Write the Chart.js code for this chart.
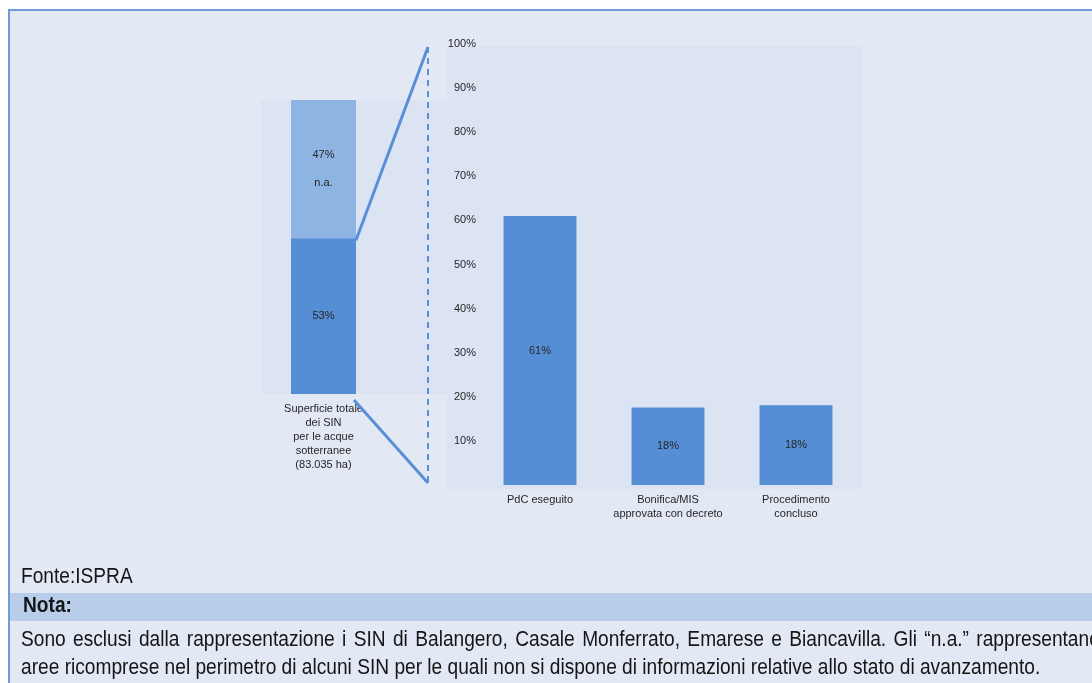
<!DOCTYPE html>
<html>
<head>
<meta charset="utf-8">
<script src="https://cdn.jsdelivr.net/npm/chart.js@4.4.1/dist/chart.umd.min.js"></script>
<style>
  html, body { margin: 0; padding: 0; background: #fff; }
  body { width: 1092px; height: 683px; overflow: hidden; position: relative;
         font-family: "Liberation Sans", Arial, sans-serif; }
  #frame { position: absolute; left: 8px; top: 9px; width: 1100px; height: 700px;
           background: #e2e9f5; border-left: 2px solid #6f9bd8; border-top: 2px solid #6f9bd8; }
  .plotbg { position: absolute; background: #dce4f3; }
  canvas { position: absolute; }
  .foot { position: absolute; left: 21px; white-space: nowrap; color: #151515;
          font-family: "Liberation Sans", Arial, sans-serif;
          font-size: 22px; line-height: 22px;
          transform: scaleX(0.87); transform-origin: 0 0; }
  .foot.just { white-space: normal; width: 1240px; text-align: justify; text-align-last: justify; }
  #nota { position: absolute; left: 10px; top: 593px; width: 1090px; height: 28px; background: #b8cde9; }
</style>
</head>
<body>
<div id="frame"></div>
<div class="plotbg" style="left:261px; top:100px; width:186px; height:294px;"></div>
<div class="plotbg" style="left:447px; top:46px; width:414px; height:443px;"></div>

<canvas id="shareChart" width="145" height="400" style="left:255px; top:90px;"></canvas>
<canvas id="statusChart" width="450" height="510" style="left:430px; top:30px;"></canvas>
<canvas id="connectors" width="1092" height="683" style="left:0; top:0; pointer-events:none;"></canvas>

<div class="foot" style="top:565px;">Fonte:ISPRA</div>
<div id="nota"></div>
<div class="foot" style="top:594px; left:23px; font-weight:bold;">Nota:</div>
<div class="foot just" style="top:628px;">Sono esclusi dalla rappresentazione i SIN di Balangero, Casale Monferrato, Emarese e Biancavilla. Gli “n.a.” rappresentano</div>
<div class="foot" style="top:656px;">aree ricomprese nel perimetro di alcuni SIN per le quali non si dispone di informazioni relative allo stato di avanzamento.</div>

<script>
// Left bar: share of total SIN groundwater surface
const shareCategory = [["Superficie totale", "dei SIN", "per le acque", "sotterranee", "(83.035 ha)"]];
const shareValues = [53, 47];
const shareNotes = ["", "n.a."];

// Right chart: progress status
const statusCategories = ["PdC eseguito", ["Bonifica/MIS", "approvata con decreto"], ["Procedimento", "concluso"]];
const statusValues = [61, 17.6, 18.1];

const yTicks = [10, 20, 30, 40, 50, 60, 70, 80, 90, 100];

const colors = {
    dark: "#558ed5",
    light: "#8eb4e3",
    line: "#5a8fd8",
    text: "#262626",
};
const fontFamily = '"Liberation Sans", Arial, sans-serif';

Chart.defaults.font.family = fontFamily;
Chart.defaults.font.size = 11;
Chart.defaults.color = colors.text;

// Draws value labels centred inside each bar
const barLabels = {
    id: "barLabels",
    afterDatasetsDraw(chart, args, opts) {
        const ctx = chart.ctx;
        ctx.save();
        ctx.font = "11px " + fontFamily;
        ctx.fillStyle = colors.text;
        ctx.textAlign = "center";
        ctx.textBaseline = "middle";
        chart.data.datasets.forEach((ds, i) => {
            chart.getDatasetMeta(i).data.forEach((bar, j) => {
                const lines = opts.text(ds, i, j);
                const cy = (bar.y + bar.base) / 2;
                lines.forEach((t, k) => {
                    ctx.fillText(t, bar.x, cy + (k - (lines.length - 1) / 2) * opts.gap);
                });
            });
        });
        ctx.restore();
    },
};

const hiddenGrid = { display: false, drawTicks: false };

const shareChart = new Chart(document.getElementById("shareChart"), {
    type: "bar",
    data: {
        labels: shareCategory,
        datasets: [
            { data: [shareValues[0]], backgroundColor: colors.dark, barPercentage: 0.52, categoryPercentage: 1 },
            { data: [shareValues[1]], backgroundColor: colors.light, barPercentage: 0.52, categoryPercentage: 1 },
        ],
    },
    options: {
        responsive: false,
        animation: false,
        layout: { padding: { left: 6, right: 14, top: 10, bottom: 0 } },
        plugins: {
            legend: { display: false },
            tooltip: { enabled: false },
            barLabels: {
                gap: 28,
                text: (ds, i) => shareNotes[i] ? [shareValues[i] + "%", shareNotes[i]] : [shareValues[i] + "%"],
            },
        },
        scales: {
            x: {
                stacked: true,
                grid: hiddenGrid,
                border: { display: false },
                ticks: { padding: 8, font: { lineHeight: 1.27 } },
                afterFit: (s) => { s.height = 96; },
            },
            y: { stacked: true, display: false, min: 0, max: 100 },
        },
    },
    plugins: [barLabels],
});

const statusChart = new Chart(document.getElementById("statusChart"), {
    type: "bar",
    data: {
        labels: statusCategories,
        datasets: [
            { data: statusValues, backgroundColor: colors.dark, barPercentage: 0.57, categoryPercentage: 1 },
        ],
    },
    options: {
        responsive: false,
        animation: false,
        layout: { padding: { left: 0, right: 20, top: 14, bottom: 0 } },
        plugins: {
            legend: { display: false },
            tooltip: { enabled: false },
            barLabels: {
                gap: 0,
                text: (ds, i, j) => [Math.round(ds.data[j]) + "%"],
            },
        },
        scales: {
            x: {
                grid: hiddenGrid,
                border: { display: false },
                ticks: { padding: 8, font: { lineHeight: 1.27 } },
                afterFit: (s) => { s.height = 55; },
            },
            y: {
                min: 0,
                max: 100,
                grid: hiddenGrid,
                border: { display: false },
                afterBuildTicks: (s) => { s.ticks = yTicks.map((v) => ({ value: v })); },
                ticks: { padding: 0, callback: (v) => v + "%" },
                afterFit: (s) => { s.width = 46; },
            },
        },
    },
    plugins: [barLabels],
});

// Zoom connectors between the left bar and the right chart
const drawConnectors = () => {
    const ctx = document.getElementById("connectors").getContext("2d");
    const left = shareChart.canvas.getBoundingClientRect();
    const right = statusChart.canvas.getBoundingClientRect();
    const bar = shareChart.getDatasetMeta(0).data[0];
    const yScale = statusChart.scales.y;
    const edgeX = left.left + bar.x + bar.width / 2;
    const gapX = 428;
    const topY = right.top + yScale.getPixelForValue(100) + 3;
    const botY = right.top + yScale.getPixelForValue(0) - 2;

    ctx.strokeStyle = colors.line;
    ctx.lineWidth = 3;
    ctx.beginPath();
    ctx.moveTo(edgeX, left.top + bar.y + 2);
    ctx.lineTo(gapX, topY);
    ctx.moveTo(edgeX - 2, left.top + bar.base + 6);
    ctx.lineTo(gapX, botY);
    ctx.stroke();

    ctx.lineWidth = 2;
    ctx.setLineDash([6, 5]);
    ctx.beginPath();
    ctx.moveTo(gapX, topY);
    ctx.lineTo(gapX, botY);
    ctx.stroke();
};
drawConnectors();
</script>
</body>
</html>
